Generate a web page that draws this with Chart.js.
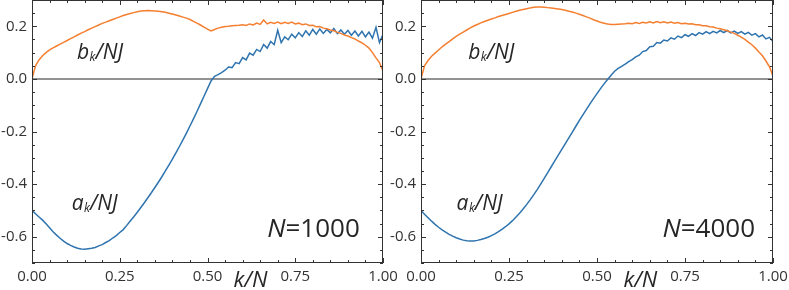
<!DOCTYPE html>
<html>
<head>
<meta charset="utf-8">
<script src="https://cdn.jsdelivr.net/npm/chart.js@4"></script>
<style>
  body { margin: 0; background: #fff; }
  #wrap { position: relative; width: 789px; height: 290px; }
  canvas { position: absolute; left: 0; top: 0; }
</style>
</head>
<body>
<div id="wrap">
  <canvas id="left" width="789" height="290"></canvas>
  <canvas id="right" width="789" height="290"></canvas>
</div>
<script>
// k/N grid
const kGrid = [
  0.00, 0.01, 0.02, 0.03, 0.04, 0.05, 0.06, 0.07, 0.08, 0.09,
  0.10, 0.11, 0.12, 0.13, 0.14, 0.15, 0.16, 0.17, 0.18, 0.19,
  0.20, 0.21, 0.22, 0.23, 0.24, 0.25, 0.26, 0.27, 0.28, 0.29,
  0.30, 0.31, 0.32, 0.33, 0.34, 0.35, 0.36, 0.37, 0.38, 0.39,
  0.40, 0.41, 0.42, 0.43, 0.44, 0.45, 0.46, 0.47, 0.48, 0.49,
  0.50, 0.51, 0.52, 0.53, 0.54, 0.55, 0.56, 0.57, 0.58, 0.59,
  0.60, 0.61, 0.62, 0.63, 0.64, 0.65, 0.66, 0.67, 0.68, 0.69,
  0.70, 0.71, 0.72, 0.73, 0.74, 0.75, 0.76, 0.77, 0.78, 0.79,
  0.80, 0.81, 0.82, 0.83, 0.84, 0.85, 0.86, 0.87, 0.88, 0.89,
  0.90, 0.91, 0.92, 0.93, 0.94, 0.95, 0.96, 0.97, 0.98, 0.99,
  1.00
];

// N = 1000
const aN1000 = [
  -0.500, -0.513, -0.525, -0.537, -0.551, -0.566, -0.581, -0.594, -0.606, -0.617,
  -0.626, -0.633, -0.639, -0.644, -0.647, -0.648, -0.646, -0.644, -0.641, -0.635,
  -0.630, -0.622, -0.615, -0.605, -0.596, -0.584, -0.573, -0.557, -0.540, -0.524,
  -0.507, -0.489, -0.471, -0.452, -0.433, -0.413, -0.393, -0.372, -0.350, -0.328,
  -0.305, -0.281, -0.257, -0.232, -0.206, -0.179, -0.152, -0.124, -0.095, -0.066,
  -0.037, -0.008, 0.010, 0.016, 0.024, 0.033, 0.045, 0.043, 0.062, 0.058,
  0.081, 0.072, 0.098, 0.090, 0.112, 0.104, 0.131, 0.117, 0.142, 0.130,
  0.185, 0.138, 0.160, 0.149, 0.170, 0.156, 0.176, 0.161, 0.183, 0.166,
  0.188, 0.170, 0.190, 0.173, 0.188, 0.175, 0.192, 0.172, 0.186, 0.170,
  0.184, 0.166, 0.182, 0.163, 0.181, 0.160, 0.178, 0.155, 0.196, 0.138,
  0.170
];
const bN1000 = [
  0.000, 0.050, 0.072, 0.088, 0.100, 0.110, 0.118, 0.125, 0.132, 0.139,
  0.146, 0.153, 0.160, 0.167, 0.174, 0.180, 0.187, 0.193, 0.199, 0.205,
  0.211, 0.216, 0.221, 0.226, 0.231, 0.236, 0.241, 0.245, 0.249, 0.252,
  0.255, 0.258, 0.259, 0.260, 0.259, 0.258, 0.257, 0.255, 0.253, 0.250,
  0.247, 0.243, 0.239, 0.235, 0.231, 0.226, 0.219, 0.212, 0.205, 0.197,
  0.189, 0.182, 0.188, 0.193, 0.196, 0.199, 0.200, 0.202, 0.203, 0.204,
  0.206, 0.203, 0.209, 0.205, 0.212, 0.207, 0.224, 0.209, 0.215, 0.211,
  0.216, 0.210, 0.215, 0.211, 0.216, 0.209, 0.212, 0.206, 0.209, 0.203,
  0.204, 0.198, 0.199, 0.193, 0.191, 0.186, 0.183, 0.177, 0.173, 0.167,
  0.163, 0.157, 0.152, 0.144, 0.137, 0.128, 0.117, 0.100, 0.080, 0.062,
  0.030
];

// N = 4000
const aN4000 = [
  -0.500, -0.515, -0.528, -0.541, -0.553, -0.564, -0.574, -0.583, -0.591, -0.598,
  -0.604, -0.609, -0.613, -0.615, -0.616, -0.616, -0.614, -0.611, -0.607, -0.602,
  -0.596, -0.589, -0.581, -0.572, -0.562, -0.551, -0.539, -0.525, -0.511, -0.495,
  -0.478, -0.460, -0.441, -0.421, -0.400, -0.378, -0.356, -0.334, -0.312, -0.290,
  -0.268, -0.246, -0.224, -0.202, -0.180, -0.158, -0.137, -0.116, -0.095, -0.075,
  -0.056, -0.037, -0.019, -0.002, 0.014, 0.029, 0.040, 0.048, 0.056, 0.066,
  0.073, 0.084, 0.090, 0.104, 0.108, 0.122, 0.124, 0.138, 0.136, 0.148,
  0.144, 0.156, 0.151, 0.163, 0.157, 0.168, 0.162, 0.172, 0.165, 0.176,
  0.170, 0.180, 0.172, 0.181, 0.175, 0.184, 0.176, 0.184, 0.175, 0.182,
  0.173, 0.180, 0.170, 0.177, 0.166, 0.172, 0.160, 0.167, 0.152, 0.158,
  0.142
];
const bN4000 = [
  0.000, 0.050, 0.070, 0.086, 0.098, 0.110, 0.122, 0.132, 0.142, 0.152,
  0.162, 0.170, 0.178, 0.186, 0.194, 0.201, 0.207, 0.213, 0.218, 0.223,
  0.228, 0.232, 0.237, 0.241, 0.245, 0.249, 0.253, 0.257, 0.261, 0.264,
  0.267, 0.270, 0.272, 0.273, 0.273, 0.272, 0.271, 0.270, 0.268, 0.266,
  0.264, 0.261, 0.257, 0.254, 0.250, 0.246, 0.241, 0.236, 0.231, 0.225,
  0.220, 0.215, 0.212, 0.209, 0.207, 0.207, 0.208, 0.209, 0.210, 0.212,
  0.210, 0.214, 0.211, 0.215, 0.213, 0.217, 0.213, 0.218, 0.214, 0.217,
  0.213, 0.216, 0.212, 0.214, 0.210, 0.212, 0.209, 0.210, 0.206, 0.206,
  0.202, 0.202, 0.198, 0.197, 0.193, 0.191, 0.187, 0.183, 0.178, 0.173,
  0.166, 0.159, 0.150, 0.140, 0.130, 0.117, 0.102, 0.088, 0.068, 0.046,
  0.010
];

const xTicks = [0, 0.25, 0.5, 0.75, 1];
const yTicks = [-0.6, -0.4, -0.2, 0, 0.2];

const BLUE = '#2f74ae';
const ORANGE = '#f57f30';
const INK = '#262626';
const FONT = '"Open Sans", sans-serif';

Chart.defaults.font.family = FONT;
Chart.defaults.color = '#333';

function pts(ys) {
  return kGrid.map((k, i) => ({x: k, y: ys[i]}));
}

// draw "a_k/NJ" style label: italic letter, small subscript k, then /NJ
function drawSubLabel(ctx, x, y, letter) {
  ctx.fillStyle = INK;
  ctx.textAlign = 'left';
  ctx.textBaseline = 'alphabetic';
  ctx.font = 'italic 21px ' + FONT;
  ctx.fillText(letter, x, y);
  x += ctx.measureText(letter).width + 0.5;
  ctx.font = 'italic 12px ' + FONT;
  ctx.fillText('k', x, y + 2);
  x += ctx.measureText('k').width;
  ctx.font = 'italic 21px ' + FONT;
  ctx.fillText('/NJ', x, y);
}

const panelDeco = {
  id: 'panelDeco',
  beforeDatasetsDraw(chart) {
    const {ctx, chartArea: a, scales: {y}} = chart;
    const y0 = Math.round(y.getPixelForValue(0));
    ctx.save();
    ctx.strokeStyle = '#6e6e6e';
    ctx.lineWidth = 1.6;
    ctx.beginPath();
    ctx.moveTo(a.left, y0);
    ctx.lineTo(a.right, y0);
    ctx.stroke();
    ctx.restore();
  },
  afterDraw(chart, args, opts) {
    const {ctx, chartArea: a, scales: {x, y}} = chart;
    ctx.save();
    ctx.strokeStyle = '#333';
    ctx.lineWidth = 1;
    // frame
    ctx.strokeRect(a.left + 0.5, a.top + 0.5, a.right - a.left - 1, a.bottom - a.top - 1);
    // inward ticks on all four sides
    ctx.beginPath();
    for (let i = 0; i <= 20; i++) {
      const px = Math.round(x.getPixelForValue(i * 0.05)) + 0.5;
      const len = i % 5 === 0 ? 5 : 3;
      ctx.moveTo(px, a.bottom); ctx.lineTo(px, a.bottom - len);
      ctx.moveTo(px, a.top); ctx.lineTo(px, a.top + len);
    }
    for (let i = -14; i <= 6; i++) {
      const py = Math.round(y.getPixelForValue(i * 0.05)) + 0.5;
      const len = i % 4 === 0 ? 5 : 3;
      ctx.moveTo(a.left, py); ctx.lineTo(a.left + len, py);
      ctx.moveTo(a.right, py); ctx.lineTo(a.right - len, py);
    }
    ctx.stroke();

    // curve labels
    drawSubLabel(ctx, x.getPixelForValue(opts.bAt[0]), y.getPixelForValue(opts.bAt[1]), 'b');
    drawSubLabel(ctx, x.getPixelForValue(opts.aAt[0]), y.getPixelForValue(opts.aAt[1]), 'a');

    // N=... label, right aligned
    ctx.fillStyle = INK;
    ctx.textBaseline = 'alphabetic';
    ctx.font = '26px ' + FONT;
    const rest = '=' + opts.n;
    const nx = x.getPixelForValue(opts.nAt[0]);
    const ny = y.getPixelForValue(opts.nAt[1]);
    const wRest = ctx.measureText(rest).width;
    ctx.textAlign = 'left';
    ctx.fillText(rest, nx - wRest, ny);
    ctx.font = 'italic 26px ' + FONT;
    ctx.textAlign = 'right';
    ctx.fillText('N', nx - wRest, ny);

    // axis title k/N
    ctx.font = 'italic 22px ' + FONT;
    ctx.textAlign = 'left';
    ctx.fillText('k/N', x.getPixelForValue(opts.kAt), 287);
    ctx.restore();
  }
};

function makePanel(id, aVals, bVals, yWidth, padRight, deco) {
  new Chart(document.getElementById(id), {
    type: 'scatter',
    data: {
      datasets: [
        {label: 'a', data: pts(aVals), showLine: true, borderColor: BLUE, borderWidth: 1.5,
         pointRadius: 0, order: 2},
        {label: 'b', data: pts(bVals), showLine: true, borderColor: ORANGE, borderWidth: 1.5,
         pointRadius: 0, order: 1}
      ]
    },
    options: {
      responsive: false,
      animation: false,
      layout: {padding: {left: 0, right: padRight, top: 0, bottom: 0}},
      plugins: {legend: {display: false}, tooltip: {enabled: false}, panelDeco: deco},
      scales: {
        x: {
          type: 'linear', min: 0, max: 1,
          grid: {display: false, drawTicks: false},
          border: {display: false},
          ticks: {font: {size: 15}, color: '#333', padding: 5, maxRotation: 0,
                  callback: v => v.toFixed(2)},
          afterBuildTicks: s => { s.ticks = xTicks.map(v => ({value: v})); },
          afterFit: s => { s.height = 27; s.paddingLeft = 0; s.paddingRight = 0; }
        },
        y: {
          type: 'linear', min: -0.7, max: 0.3,
          grid: {display: false, drawTicks: false},
          border: {display: false},
          ticks: {font: {size: 15}, color: '#333', padding: 5,
                  callback: v => v.toFixed(1)},
          afterBuildTicks: s => { s.ticks = yTicks.map(v => ({value: v})); },
          afterFit: s => { s.width = yWidth; s.paddingTop = 0; s.paddingBottom = 0; }
        }
      }
    },
    plugins: [panelDeco]
  });
}

makePanel('left', aN1000, bN1000, 32, 406,
  {n: '1000', bAt: [0.128, 0.076], aAt: [0.113, -0.498], nAt: [0.934, -0.60], kAt: 0.574});
makePanel('right', aN4000, bN4000, 421, 16,
  {n: '4000', bAt: [0.134, 0.076], aAt: [0.101, -0.498], nAt: [0.949, -0.60], kAt: 0.575});
</script>
</body>
</html>
